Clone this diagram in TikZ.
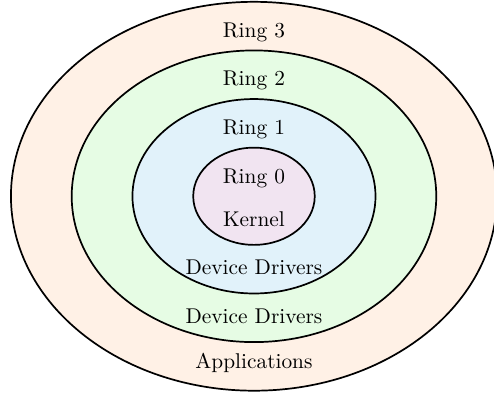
\documentclass[tikz,border=0pt]{standalone}
\usepackage[usenames,dvipsnames]{xcolor}
\usepackage{tikz}
\usetikzlibrary{calc}
\definecolor{ringthree}{HTML}{FFF1E6}
\definecolor{ringtwo}{HTML}{E6FCE4}
\definecolor{ringone}{HTML}{E1F2FA}
\definecolor{ringzero}{HTML}{F1E4F1}
\begin{document}
\begin{tikzpicture}[thick]
\useasboundingbox (-4.18,-3.23) rectangle (3.95,3.23);
\draw[fill=ringthree] (0,0) ellipse (4 and 3.2);
\draw[fill=ringtwo] (0,0) ellipse (3 and 2.4);
\draw[fill=ringone] (0,0) ellipse (2 and 1.6);
\draw[fill=ringzero] (0,0) ellipse (1 and 0.8);
\node (R3) at (0,2.7) {Ring 3};
\node (R2) at (0,1.9) {Ring 2};
\node (R1) at (0,1.1) {Ring 1};
\node (R0) at (0,0.3) {Ring 0};
\node (K) at (0,-0.37) {Kernel};
\node (D1) at (0,-1.17) {Device Drivers};
\node (D2) at (0,-1.97) {Device Drivers};
\node (A) at (0,-2.75) {Applications};
\end{tikzpicture}
\end{document}
